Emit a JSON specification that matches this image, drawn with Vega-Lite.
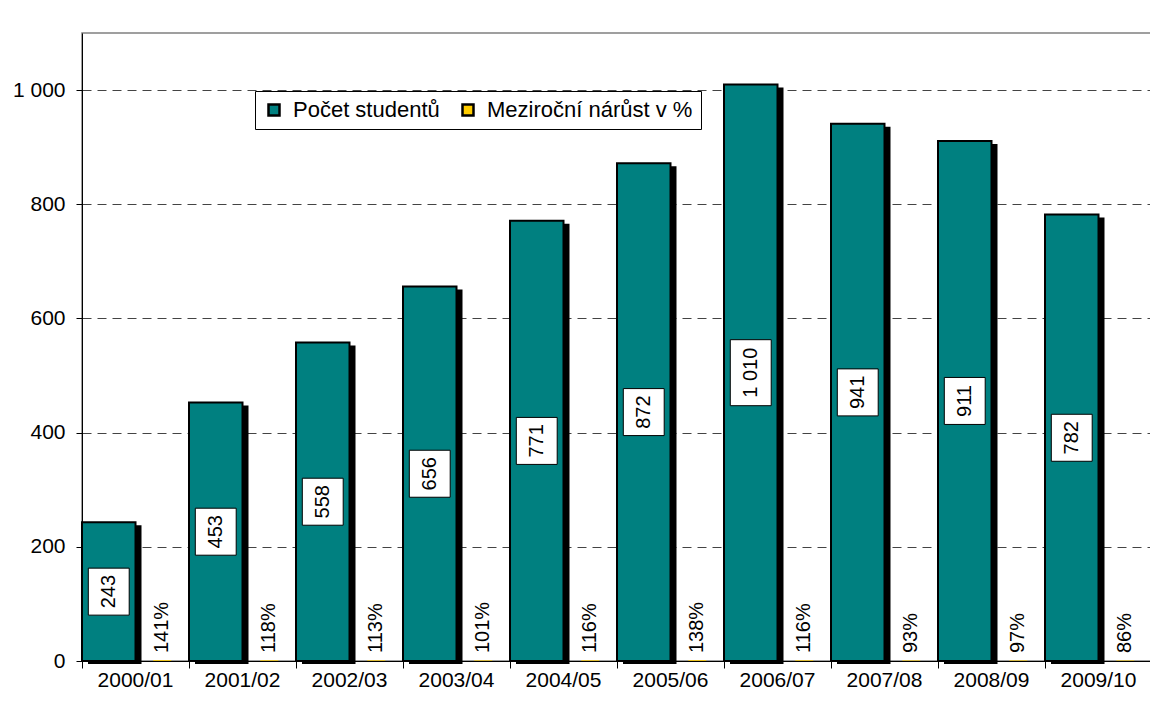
{
  "$schema": "https://vega.github.io/schema/vega-lite/v6.json",
  "width": 1070,
  "height": 628,
  "autosize": {"type": "none"},
  "padding": {"left": 82, "top": 33, "right": 0, "bottom": 59},
  "background": "white",
  "config": {
    "font": "Liberation Sans",
    "locale": {"number": {"decimal": ",", "thousands": " ", "grouping": [3], "currency": ["", " Kč"]}},
    "view": {"stroke": "#808080", "strokeWidth": 1.5},
    "axis": {"labelFont": "Liberation Sans", "labelFontSize": 21, "labelColor": "black", "domainColor": "black", "tickColor": "black", "title": null},
    "legend": {"labelFont": "Liberation Sans", "labelFontSize": 22, "labelColor": "black", "labelLimit": 0, "symbolType": "square", "symbolSize": 121, "symbolStrokeColor": "black", "symbolStrokeWidth": 2.5, "strokeColor": "black", "fillColor": "white", "padding": 8, "columnPadding": 17, "labelOffset": 8}
  },
  "data": {
    "values": [
      {"rok": "2000/01", "rada": "Počet studentů", "hodnota": 243},
      {"rok": "2000/01", "rada": "Meziroční nárůst v %", "hodnota": 1.41},
      {"rok": "2001/02", "rada": "Počet studentů", "hodnota": 453},
      {"rok": "2001/02", "rada": "Meziroční nárůst v %", "hodnota": 1.18},
      {"rok": "2002/03", "rada": "Počet studentů", "hodnota": 558},
      {"rok": "2002/03", "rada": "Meziroční nárůst v %", "hodnota": 1.13},
      {"rok": "2003/04", "rada": "Počet studentů", "hodnota": 656},
      {"rok": "2003/04", "rada": "Meziroční nárůst v %", "hodnota": 1.01},
      {"rok": "2004/05", "rada": "Počet studentů", "hodnota": 771},
      {"rok": "2004/05", "rada": "Meziroční nárůst v %", "hodnota": 1.16},
      {"rok": "2005/06", "rada": "Počet studentů", "hodnota": 872},
      {"rok": "2005/06", "rada": "Meziroční nárůst v %", "hodnota": 1.38},
      {"rok": "2006/07", "rada": "Počet studentů", "hodnota": 1010},
      {"rok": "2006/07", "rada": "Meziroční nárůst v %", "hodnota": 1.16},
      {"rok": "2007/08", "rada": "Počet studentů", "hodnota": 941},
      {"rok": "2007/08", "rada": "Meziroční nárůst v %", "hodnota": 0.93},
      {"rok": "2008/09", "rada": "Počet studentů", "hodnota": 911},
      {"rok": "2008/09", "rada": "Meziroční nárůst v %", "hodnota": 0.97},
      {"rok": "2009/10", "rada": "Počet studentů", "hodnota": 782},
      {"rok": "2009/10", "rada": "Meziroční nárůst v %", "hodnota": 0.86}
    ]
  },
  "layer": [
    {
      "transform": [{"filter": "datum.rada == 'Počet studentů'"}],
      "mark": {"type": "bar", "color": "black", "yOffset": 3, "y2Offset": 0},
      "encoding": {
        "x": {"field": "rok", "type": "nominal", "sort": null, "scale": {"paddingInner": 0, "paddingOuter": 0},
              "axis": {"bandPosition": 0, "tickSize": 7, "labelPadding": 1, "labelAngle": 0, "grid": false, "zindex": 1}},
        "xOffset": {"field": "rada", "type": "nominal", "scale": {"type": "band", "domain": ["Počet studentů", "Meziroční nárůst v %"], "range": [6, 113], "paddingInner": 0, "paddingOuter": 0}},
        "y": {"field": "hodnota", "type": "quantitative", "scale": {"domain": [0, 1100], "nice": false},
              "axis": {"values": [0, 200, 400, 600, 800, 1000], "format": ",d", "tickSize": 6, "labelPadding": 11, "grid": true, "gridColor": "#444444", "gridDash": [9, 6], "gridWidth": 1}}
      }
    },
    {
      "transform": [{"filter": "datum.rada == 'Počet studentů'"}],
      "mark": {"type": "bar", "stroke": "black", "strokeWidth": 2},
      "encoding": {
        "x": {"field": "rok", "type": "nominal", "sort": null},
        "xOffset": {"field": "rada", "type": "nominal", "scale": {"type": "band", "domain": ["Počet studentů", "Meziroční nárůst v %"], "paddingInner": 0, "paddingOuter": 0}},
        "y": {"field": "hodnota", "type": "quantitative", "scale": {"domain": [0, 1100], "nice": false}, "axis": null},
        "color": {"field": "rada", "type": "nominal", "scale": {"domain": ["Počet studentů", "Meziroční nárůst v %"], "range": ["#008080", "#FFCC00"]},
                  "legend": {"orient": "none", "legendX": 173, "legendY": 58, "direction": "horizontal", "title": null}}
      }
    },
    {
      "transform": [{"filter": "datum.rada == 'Meziroční nárůst v %'"}],
      "mark": {"type": "bar", "width": 0},
      "encoding": {
        "x": {"field": "rok", "type": "nominal", "sort": null},
        "xOffset": {"field": "rada", "type": "nominal", "scale": {"type": "band", "domain": ["Počet studentů", "Meziroční nárůst v %"], "paddingInner": 0, "paddingOuter": 0}},
        "y": {"field": "hodnota", "type": "quantitative", "scale": {"domain": [0, 1100], "nice": false}, "axis": null},
        "color": {"field": "rada", "type": "nominal", "scale": {"domain": ["Počet studentů", "Meziroční nárůst v %"], "range": ["#008080", "#FFCC00"]},
                  "legend": {"orient": "none", "legendX": 173, "legendY": 58, "direction": "horizontal", "title": null}}
      }
    },
    {
      "transform": [{"filter": "datum.rada == 'Meziroční nárůst v %'"}],
      "mark": {"type": "text", "angle": 270, "align": "left", "baseline": "middle", "dx": 8, "fontSize": 20, "color": "black", "font": "Liberation Sans"},
      "encoding": {
        "x": {"field": "rok", "type": "nominal", "sort": null},
        "xOffset": {"field": "rada", "type": "nominal", "scale": {"type": "band", "domain": ["Počet studentů", "Meziroční nárůst v %"], "paddingInner": 0, "paddingOuter": 0}},
        "y": {"datum": 0, "type": "quantitative", "scale": {"domain": [0, 1100], "nice": false}, "axis": null},
        "text": {"field": "hodnota", "type": "quantitative", "format": ".0%"}
      }
    },
    {
      "transform": [{"filter": "datum.rada == 'Počet studentů' && datum.hodnota < 1000"}],
      "mark": {"type": "point", "shape": "M-0.87,-1L0.87,-1L0.87,1L-0.87,1Z", "size": 2209, "filled": true, "fill": "white", "stroke": "black", "strokeWidth": 1, "opacity": 1},
      "encoding": {
        "x": {"field": "rok", "type": "nominal", "sort": null},
        "xOffset": {"field": "rada", "type": "nominal", "scale": {"type": "band", "domain": ["Počet studentů", "Meziroční nárůst v %"], "paddingInner": 0, "paddingOuter": 0}},
        "y": {"field": "hodnota", "type": "quantitative", "scale": {"domain": [0, 2200], "nice": false}, "axis": null}
      }
    },
    {
      "transform": [{"filter": "datum.rada == 'Počet studentů' && datum.hodnota >= 1000"}],
      "mark": {"type": "point", "shape": "M-0.62,-1L0.62,-1L0.62,1L-0.62,1Z", "size": 4356, "filled": true, "fill": "white", "stroke": "black", "strokeWidth": 1, "opacity": 1},
      "encoding": {
        "x": {"field": "rok", "type": "nominal", "sort": null},
        "xOffset": {"field": "rada", "type": "nominal", "scale": {"type": "band", "domain": ["Počet studentů", "Meziroční nárůst v %"], "paddingInner": 0, "paddingOuter": 0}},
        "y": {"field": "hodnota", "type": "quantitative", "scale": {"domain": [0, 2200], "nice": false}, "axis": null}
      }
    },
    {
      "transform": [{"filter": "datum.rada == 'Počet studentů'"}],
      "mark": {"type": "text", "angle": 270, "align": "center", "baseline": "middle", "fontSize": 20, "color": "black", "font": "Liberation Sans"},
      "encoding": {
        "x": {"field": "rok", "type": "nominal", "sort": null},
        "xOffset": {"field": "rada", "type": "nominal", "scale": {"type": "band", "domain": ["Počet studentů", "Meziroční nárůst v %"], "paddingInner": 0, "paddingOuter": 0}},
        "y": {"field": "hodnota", "type": "quantitative", "scale": {"domain": [0, 2200], "nice": false}, "axis": null},
        "text": {"field": "hodnota", "type": "quantitative", "format": ",d"}
      }
    }
  ],
  "resolve": {"scale": {"y": "independent", "xOffset": "independent"}}
}
